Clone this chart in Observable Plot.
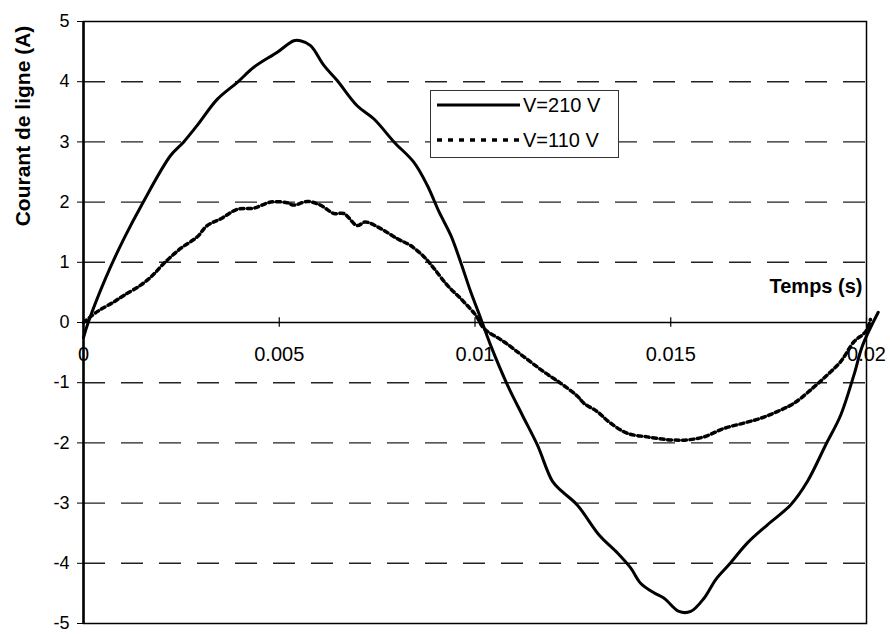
<!DOCTYPE html>
<html>
<head>
<meta charset="utf-8">
<script src="https://cdn.jsdelivr.net/npm/d3@7"></script>
<script src="https://cdn.jsdelivr.net/npm/@observablehq/plot@0.6"></script>
<style>
  body { margin: 0; background: #fff; }
  #wrap { position: relative; width: 890px; height: 634px; font-family: Arial, "Liberation Sans", sans-serif; }
  #legend { position: absolute; left: 430px; top: 90px; width: 187px; height: 66px; background: #fff; border: 1px solid #333; }
  #ytitle { position: absolute; left: -89px; top: 114px; width: 224px; height: 24px; line-height: 24px; text-align: center;
            font-weight: bold; font-size: 21px; color: #000; transform: rotate(-90deg); transform-origin: 50% 50%; white-space: nowrap; }
</style>
</head>
<body>
<div id="wrap"></div>
<script>
// Time (s) and line current (A) for V = 210 V
const t210 = [0, 0.00012, 0.00056, 0.00103, 0.0015, 0.00222, 0.00256, 0.0029, 0.00342, 0.00393, 0.00435, 0.00495, 0.00537, 0.00554, 0.0058, 0.00614, 0.00648, 0.00699, 0.00742, 0.00793, 0.00844, 0.00878, 0.00908, 0.00938, 0.00963, 0.00989, 0.0101, 0.0104, 0.01083, 0.01121, 0.01159, 0.01198, 0.01223, 0.01261, 0.01317, 0.01364, 0.01398, 0.01423, 0.01457, 0.01483, 0.01521, 0.01551, 0.01585, 0.01615, 0.01649, 0.01696, 0.01747, 0.01806, 0.01849, 0.01896, 0.01934, 0.01968, 0.0199, 0.0203];
const v210 = [-0.25, 0, 0.73, 1.39, 1.97, 2.77, 3.0, 3.27, 3.71, 3.99, 4.24, 4.49, 4.68, 4.68, 4.6, 4.27, 4.02, 3.6, 3.38, 3.0, 2.66, 2.28, 1.84, 1.45, 1.01, 0.51, 0.15, -0.38, -1.04, -1.54, -2.03, -2.64, -2.81, -3.03, -3.53, -3.83, -4.08, -4.33, -4.49, -4.58, -4.8, -4.8, -4.58, -4.27, -4.02, -3.66, -3.36, -3.03, -2.64, -2.03, -1.54, -0.87, -0.38, 0.17];
// Time (s) and line current (A) for V = 110 V
const t110 = [0, 0.00035, 0.00077, 0.00103, 0.00146, 0.00176, 0.00205, 0.00248, 0.0029, 0.00316, 0.0035, 0.00393, 0.00435, 0.00478, 0.0052, 0.00537, 0.00572, 0.00605, 0.0064, 0.00665, 0.00699, 0.0072, 0.00759, 0.00802, 0.00835, 0.0087, 0.00895, 0.00929, 0.00963, 0.01002, 0.01023, 0.01074, 0.01125, 0.01176, 0.01219, 0.01261, 0.01278, 0.01312, 0.01346, 0.01389, 0.0144, 0.015, 0.01542, 0.01585, 0.01636, 0.01687, 0.0173, 0.01772, 0.01815, 0.01866, 0.019, 0.01934, 0.01968, 0.01998, 0.0201];
const v110 = [0, 0.18, 0.34, 0.45, 0.62, 0.78, 0.98, 1.23, 1.42, 1.61, 1.72, 1.88, 1.9, 2.0, 1.99, 1.95, 2.01, 1.95, 1.81, 1.81, 1.61, 1.67, 1.56, 1.39, 1.28, 1.09, 0.9, 0.62, 0.4, 0.12, -0.1, -0.32, -0.57, -0.82, -1.01, -1.22, -1.34, -1.48, -1.67, -1.84, -1.9, -1.95, -1.95, -1.9, -1.76, -1.67, -1.59, -1.48, -1.34, -1.07, -0.87, -0.65, -0.32, -0.15, 0.05];

const series = ["V=210 V", "V=110 V"];
const xTicks = [0, 0.005, 0.01, 0.015, 0.02];
const xTickLabels = ["0", "0.005", "0.01", "0.015", "0.02"];
const yTicks = [-5, -4, -3, -2, -1, 0, 1, 2, 3, 4, 5];
const gridValues = [-4, -3, -2, -1, 1, 2, 3, 4];
const xTitle = "Temps (s)";
const yTitle = "Courant de ligne (A)";
const tickHalf = 0.08; // half-length of the cross ticks on the zero axis, in A

const d210 = t210.map((t, i) => ({t, v: v210[i]}));
const d110 = t110.map((t, i) => ({t, v: v110[i]}));

const chart = Plot.plot({
  width: 890,
  height: 634,
  marginLeft: 83,
  marginRight: 24,
  marginTop: 21,
  marginBottom: 11,
  style: {fontSize: "18px", fontFamily: "Arial, 'Liberation Sans', sans-serif", color: "#000", background: "#fff"},
  x: {domain: [0, 0.02], axis: null},
  y: {domain: [-5, 5], ticks: yTicks, tickFormat: d => String(d), tickSize: 6, tickPadding: 8, label: null},
  marks: [
    Plot.ruleY(gridValues, {stroke: "#222", strokeWidth: 1.4, strokeDasharray: "22,16"}),
    Plot.frame({stroke: "#000", strokeWidth: 1.5}),
    Plot.ruleX([0], {stroke: "#000", strokeWidth: 2.5}),
    Plot.ruleY([0], {stroke: "#000", strokeWidth: 1.5}),
    Plot.ruleX(xTicks, {x: d => d, y1: () => -tickHalf, y2: () => tickHalf, stroke: "#000", strokeWidth: 1.2}),
    Plot.text(xTicks, {x: d => d, y: () => 0, dy: 32, text: (d, i) => xTickLabels[i], fill: "#000", fontSize: 20}),
    Plot.text([xTitle], {frameAnchor: "right", dx: -4, dy: -36, textAnchor: "end", fontWeight: "bold", fontSize: 20, fill: "#000"}),
    Plot.line(d110, {x: "t", y: "v", stroke: "#000", strokeWidth: 3.5, strokeDasharray: "4,3.5", curve: "catmull-rom"}),
    Plot.line(d210, {x: "t", y: "v", stroke: "#000", strokeWidth: 3, curve: "catmull-rom"})
  ]
});

const wrap = document.getElementById("wrap");
wrap.appendChild(chart);

const yt = document.createElement("div");
yt.id = "ytitle";
yt.textContent = yTitle;
wrap.appendChild(yt);

const legend = document.createElement("div");
legend.id = "legend";
legend.innerHTML = `<svg width="187" height="66" font-family="Arial, 'Liberation Sans', sans-serif" font-size="20">
  <line x1="6" x2="89" y1="14" y2="14" stroke="#000" stroke-width="3"/>
  <text x="92" y="14" dy="0.35em" fill="#000">${series[0]}</text>
  <line x1="6" x2="89" y1="49" y2="49" stroke="#000" stroke-width="3.5" stroke-dasharray="5,6"/>
  <text x="92" y="49" dy="0.35em" fill="#000">${series[1]}</text>
</svg>`;
wrap.appendChild(legend);
</script>
</body>
</html>
